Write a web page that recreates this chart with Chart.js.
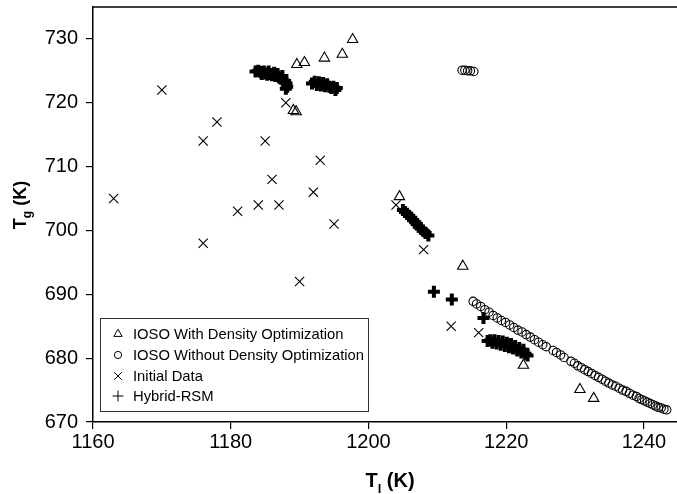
<!DOCTYPE html>
<html>
<head>
<meta charset="utf-8">
<script src="https://cdn.jsdelivr.net/npm/chart.js@4/dist/chart.umd.min.js"></script>
<style>
  html, body { margin: 0; padding: 0; background: #fff; }
</style>
</head>
<body>
<canvas id="chart" width="677" height="494"></canvas>
<script>
// axis ticks
var xTicks = [1160, 1180, 1200, 1220, 1240];
var yTicks = [670, 680, 690, 700, 710, 720, 730];

// IOSO With Density Optimization (triangles)
var withDensityX = [1189.1, 1189.5, 1189.6, 1190.7, 1193.6, 1196.2, 1197.7, 1204.5, 1213.7, 1222.5, 1230.7, 1232.7];
var withDensityY = [718.8, 718.6, 726.0, 726.3, 727.0, 727.6, 729.9, 705.3, 694.4, 678.9, 675.1, 673.7];

// IOSO Without Density Optimization (circles)
var withoutDensityX = [1213.6, 1214.0, 1214.4, 1214.8, 1215.3,
  1215.2, 1215.7, 1216.3, 1216.9, 1217.5, 1218.1, 1218.7, 1219.3, 1219.9, 1220.5,
  1221.1, 1221.7, 1222.3, 1222.9, 1223.5, 1224.1, 1224.7, 1225.3, 1225.8, 1226.8,
  1227.3, 1227.9, 1228.4, 1229.4, 1229.9, 1230.4, 1230.9, 1231.4, 1231.9, 1232.4,
  1232.9, 1233.4, 1233.9, 1234.4, 1234.9, 1235.4, 1235.9, 1236.4, 1236.9, 1237.4,
  1237.9, 1238.4, 1238.9, 1239.3, 1239.7, 1240.1, 1240.5, 1240.9, 1241.3, 1241.7,
  1242.1, 1242.5, 1242.9, 1243.3];
var withoutDensityY = [725.1, 725.1, 725.0, 725.0, 724.9,
  688.9, 688.5, 688.1, 687.6, 687.2, 686.7, 686.3, 685.9, 685.6, 685.2,
  684.8, 684.4, 684.1, 683.7, 683.3, 682.9, 682.5, 682.1, 681.8, 681.2,
  680.9, 680.5, 680.1, 679.5, 679.2, 678.8, 678.5, 678.2, 677.9, 677.6,
  677.3, 677.0, 676.7, 676.4, 676.1, 675.8, 675.6, 675.3, 675.0, 674.8,
  674.5, 674.2, 674.0, 673.7, 673.5, 673.3, 673.1, 672.9, 672.7, 672.5,
  672.3, 672.2, 672.0, 671.9];

// Initial Data (x marks)
var initialX = [1163, 1170, 1176, 1176, 1178, 1181, 1184, 1185, 1186, 1187, 1188, 1190, 1192, 1193, 1195, 1204, 1208, 1212, 1216];
var initialY = [705, 722, 698, 714, 717, 703, 704, 714, 708, 704, 720, 692, 706, 711, 701, 704, 697, 685, 684];

// Hybrid-RSM (thick plus)
var hybridX = [1183.6, 1184.0, 1184.3, 1184.5, 1184.8, 1185.0, 1185.3, 1185.5, 1185.8, 1186.0,
  1186.3, 1186.5, 1186.8, 1187.0, 1187.2, 1187.5, 1187.7, 1187.9, 1188.1, 1188.2, 1188.0,
  1191.8, 1192.2, 1192.5, 1192.8, 1193.1, 1193.4, 1193.7, 1194.0, 1194.3, 1194.6, 1194.9, 1195.2, 1195.4,
  1205.0, 1205.3, 1205.6, 1205.9, 1206.2, 1206.5, 1206.8, 1207.0, 1207.3, 1207.6, 1207.9, 1208.3, 1208.7,
  1209.5, 1212.1, 1216.7,
  1217.3, 1217.7, 1218.0, 1218.3, 1218.6, 1218.9, 1219.2, 1219.5, 1219.8, 1220.1,
  1220.4, 1220.7, 1221.0, 1221.3, 1221.6, 1221.9, 1222.2, 1222.5, 1222.8, 1223.1];
var hybridY = [724.9, 725.0, 724.8, 724.5, 724.9, 724.6, 724.4, 724.9, 724.5, 724.3,
  724.7, 724.2, 724.5, 724.0, 723.8, 724.2, 723.5, 723.4, 723.0, 722.5, 722.2,
  723.0, 723.3, 722.8, 723.2, 722.7, 723.1, 722.6, 722.9, 722.5, 722.3, 722.5, 722.0, 722.3,
  703.2, 702.9, 702.6, 702.3, 702.0, 701.6, 701.3, 701.0, 700.6, 700.3, 700.0, 699.6, 699.2,
  690.4, 689.2, 686.3,
  682.7, 682.8, 682.4, 682.8, 682.3, 682.7, 682.1, 682.6, 681.9, 682.4,
  681.7, 682.2, 681.5, 681.9, 681.2, 681.6, 680.9, 681.3, 680.7, 680.4];

var legendLabels = ['IOSO With Density Optimization', 'IOSO Without Density Optimization', 'Initial Data', 'Hybrid-RSM'];

function pts(xs, ys) {
  return xs.map(function (x, i) { return { x: x, y: ys[i] }; });
}

var FONT = '"Liberation Sans", Arial, Helvetica, sans-serif';
var clear = 'rgba(0,0,0,0)';

var styles = [
  { pointStyle: 'triangle', radius: 6, borderWidth: 1.1, lr: 4.8, lw: 1.1 },
  { pointStyle: 'circle', radius: 4.2, borderWidth: 1.1, lr: 3.6, lw: 1.1 },
  { pointStyle: 'crossRot', radius: 6.5, borderWidth: 1.1, lr: 5.5, lw: 1.1 },
  { pointStyle: 'cross', radius: 6, borderWidth: 4, lr: 5.5, lw: 3.8 }
];

function drawMark(ctx, st, x, y) {
  ctx.save();
  ctx.strokeStyle = '#000';
  ctx.fillStyle = clear;
  Chart.helpers.drawPoint(ctx, { pointStyle: st.pointStyle, radius: st.lr, borderWidth: st.lw, rotation: 0 }, x, y);
  ctx.restore();
}

function drawSubTitle(ctx, main, sub, rest, cx, baseY, size) {
  ctx.font = 'bold ' + size + 'px ' + FONT;
  var w1 = ctx.measureText(main).width;
  var w3 = ctx.measureText(rest).width;
  ctx.font = 'bold ' + Math.round(size * 0.65) + 'px ' + FONT;
  var w2 = ctx.measureText(sub).width;
  var x = cx - (w1 + w2 + w3) / 2;
  ctx.textAlign = 'left';
  ctx.textBaseline = 'alphabetic';
  ctx.fillStyle = '#000';
  ctx.font = 'bold ' + size + 'px ' + FONT;
  ctx.fillText(main, x, baseY);
  ctx.font = 'bold ' + Math.round(size * 0.65) + 'px ' + FONT;
  ctx.fillText(sub, x + w1, baseY + size * 0.3);
  ctx.font = 'bold ' + size + 'px ' + FONT;
  ctx.fillText(rest, x + w1 + w2, baseY);
}

var decor = {
  id: 'decor',
  afterDraw: function (chart) {
    var ctx = chart.ctx, a = chart.chartArea;
    ctx.save();
    // top frame line
    ctx.strokeStyle = '#000';
    ctx.lineWidth = 1.5;
    ctx.beginPath();
    ctx.moveTo(a.left, a.top);
    ctx.lineTo(a.right, a.top);
    ctx.stroke();

    // legend box
    ctx.fillStyle = '#fff';
    ctx.fillRect(100, 318, 269, 94);
    ctx.strokeStyle = '#333';
    ctx.lineWidth = 1;
    ctx.strokeRect(100.5, 318.5, 268, 93);

    var rows = [334, 355, 376, 396];
    for (var i = 0; i < legendLabels.length; i++) {
      drawMark(ctx, styles[i], 118, rows[i]);
      ctx.fillStyle = '#000';
      ctx.font = '14.8px ' + FONT;
      ctx.textAlign = 'left';
      ctx.textBaseline = 'middle';
      ctx.fillText(legendLabels[i], 133, rows[i] + 1);
    }

    // axis titles with subscripts
    drawSubTitle(ctx, 'T', 'l', ' (K)', 390, 487, 20);
    ctx.save();
    ctx.translate(26, 205);
    ctx.rotate(-Math.PI / 2);
    drawSubTitle(ctx, 'T', 'g', ' (K)', 0, 0, 18);
    ctx.restore();
    ctx.restore();
  }
};

function makeSet(label, xs, ys, st, order) {
  return {
    label: label,
    data: pts(xs, ys),
    pointStyle: st.pointStyle,
    pointRadius: st.radius,
    pointHoverRadius: st.radius,
    pointBorderWidth: st.borderWidth,
    borderColor: '#000',
    backgroundColor: clear,
    pointBackgroundColor: clear,
    order: order
  };
}

var tickFont = { family: FONT, size: 20 };
function plain(v) { return String(v); }

new Chart(document.getElementById('chart').getContext('2d'), {
  type: 'scatter',
  data: {
    datasets: [
      makeSet(legendLabels[0], withDensityX, withDensityY, styles[0], 2),
      makeSet(legendLabels[1], withoutDensityX, withoutDensityY, styles[1], 3),
      makeSet(legendLabels[2], initialX, initialY, styles[2], 1),
      makeSet(legendLabels[3], hybridX, hybridY, styles[3], 0)
    ]
  },
  options: {
    responsive: false,
    animation: false,
    devicePixelRatio: 1,
    layout: { autoPadding: false, padding: { top: 7, right: 0, bottom: 0, left: 0 } },
    plugins: {
      legend: { display: false },
      tooltip: { enabled: false }
    },
    scales: {
      x: {
        type: 'linear',
        min: 1160,
        max: 1244.8,
        afterBuildTicks: function (s) { s.ticks = xTicks.map(function (v) { return { value: v }; }); },
        afterFit: function (s) { s.height = 72; s.paddingLeft = 0; s.paddingRight = 0; },
        grid: { drawOnChartArea: false, drawTicks: true, tickLength: 7, color: '#000', lineWidth: 1.2 },
        border: { color: '#000', width: 1.5 },
        ticks: { color: '#000', font: tickFont, padding: 1, maxRotation: 0, callback: plain }
      },
      y: {
        type: 'linear',
        min: 670,
        max: 735,
        afterBuildTicks: function (s) { s.ticks = yTicks.map(function (v) { return { value: v }; }); },
        afterFit: function (s) { s.width = 93; s.paddingTop = 0; s.paddingBottom = 0; },
        grid: { drawOnChartArea: false, drawTicks: true, tickLength: 7, color: '#000', lineWidth: 1.2 },
        border: { color: '#000', width: 1.5 },
        ticks: { color: '#000', font: tickFont, padding: 8, callback: plain }
      }
    }
  },
  plugins: [decor]
});
</script>
</body>
</html>
